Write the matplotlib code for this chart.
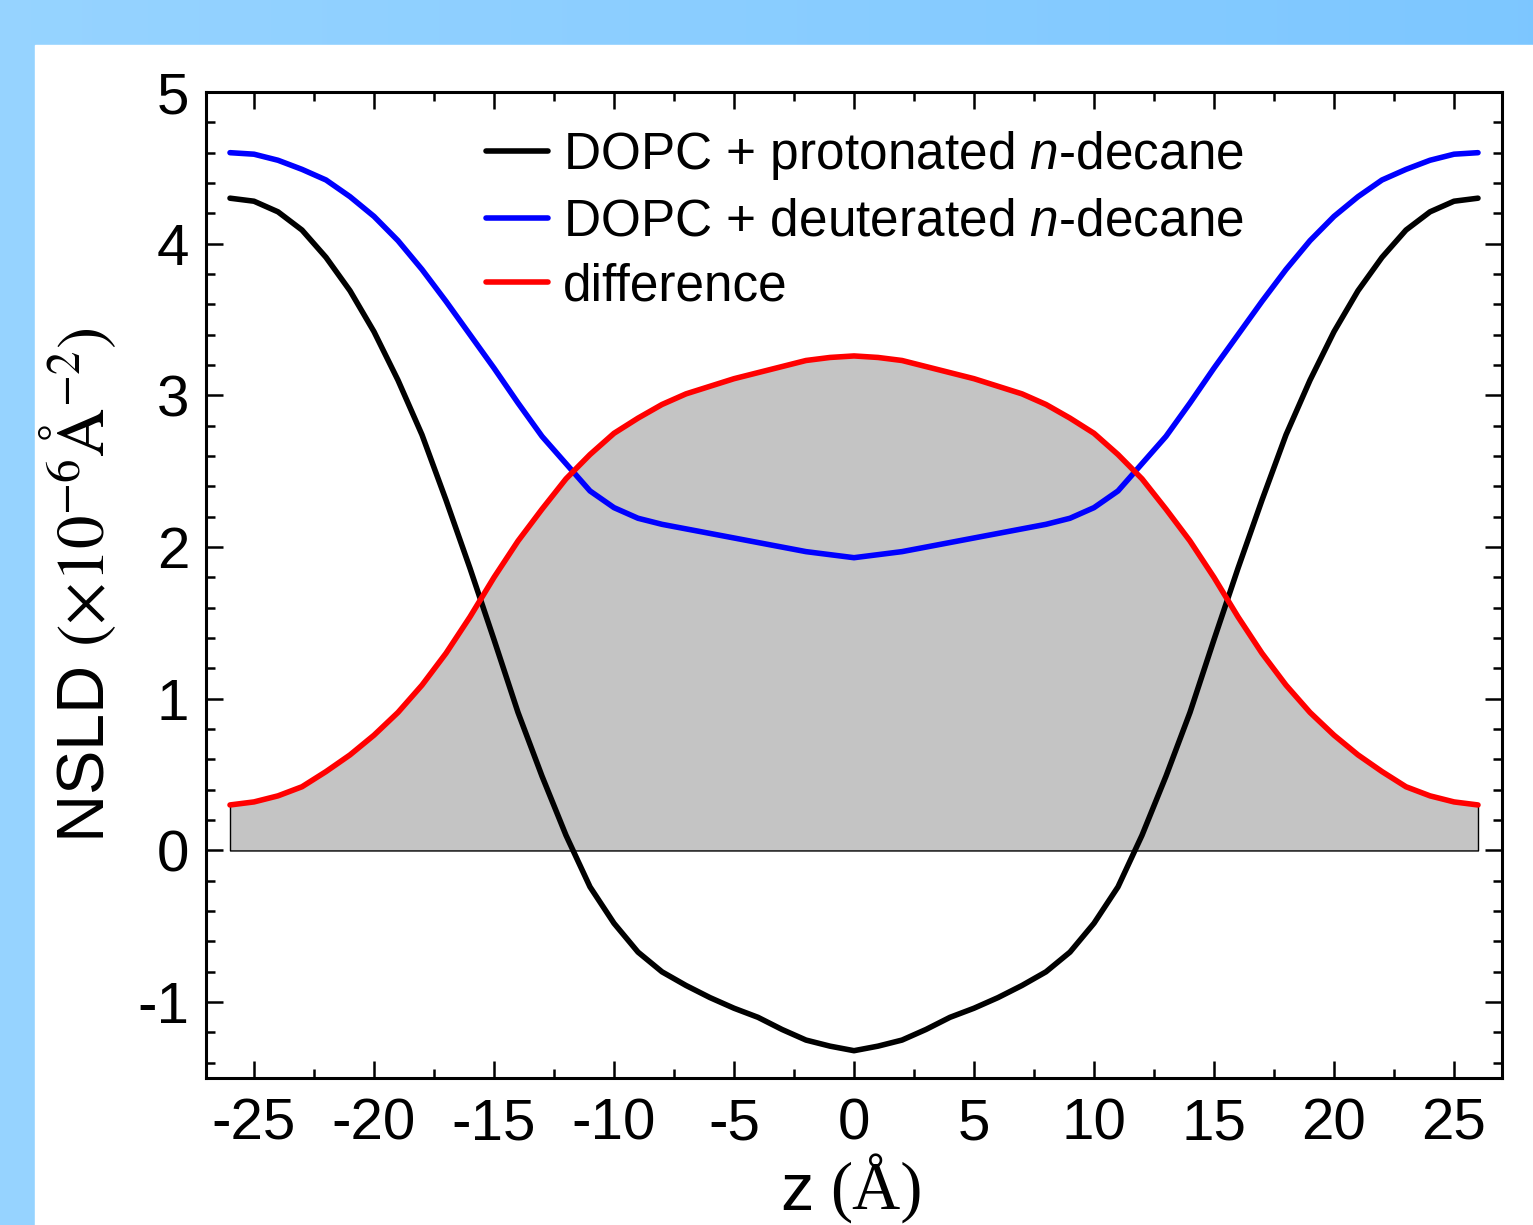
import numpy as np
import matplotlib
matplotlib.use("Agg")
import matplotlib.pyplot as plt
from matplotlib.ticker import MultipleLocator
from matplotlib.font_manager import FontProperties

# depth across the bilayer (Angstrom)
z = list(range(-26, 27))

# DOPC + protonated n-decane
nsld_h = [4.30, 4.28, 4.21, 4.09, 3.91, 3.69, 3.42, 3.10, 2.74, 2.31, 1.86, 1.39, 0.91,
          0.49, 0.10, -0.24, -0.48, -0.67, -0.80, -0.89, -0.97, -1.04, -1.10, -1.18,
          -1.25, -1.29, -1.32,
          -1.29, -1.25, -1.18, -1.10, -1.04, -0.97, -0.89, -0.80, -0.67, -0.48, -0.24,
          0.10, 0.49, 0.91, 1.39, 1.86, 2.31, 2.74, 3.10, 3.42, 3.69, 3.91, 4.09, 4.21,
          4.28, 4.30]

# DOPC + deuterated n-decane
nsld_d = [4.60, 4.59, 4.55, 4.49, 4.42, 4.31, 4.18, 4.02, 3.83, 3.62, 3.40, 3.18, 2.95,
          2.73, 2.55, 2.37, 2.26, 2.19, 2.15, 2.12, 2.09, 2.06, 2.03, 2.00, 1.97, 1.95,
          1.93,
          1.95, 1.97, 2.00, 2.03, 2.06, 2.09, 2.12, 2.15, 2.19, 2.26, 2.37, 2.55, 2.73,
          2.95, 3.18, 3.40, 3.62, 3.83, 4.02, 4.18, 4.31, 4.42, 4.49, 4.55, 4.59, 4.60]

# difference
nsld_diff = [0.30, 0.32, 0.36, 0.42, 0.52, 0.63, 0.76, 0.91, 1.09, 1.30, 1.54, 1.80, 2.04,
             2.25, 2.45, 2.61, 2.75, 2.85, 2.94, 3.01, 3.06, 3.11, 3.15, 3.19, 3.23, 3.25,
             3.26,
             3.25, 3.23, 3.19, 3.15, 3.11, 3.06, 3.01, 2.94, 2.85, 2.75, 2.61, 2.45, 2.25,
             2.04, 1.80, 1.54, 1.30, 1.09, 0.91, 0.76, 0.63, 0.52, 0.42, 0.36, 0.32, 0.30]

plt.rcParams['font.family'] = ['Liberation Sans', 'DejaVu Sans']
plt.rcParams['axes.unicode_minus'] = False
plt.rcParams['mathtext.fontset'] = 'custom'
plt.rcParams['mathtext.rm'] = 'Liberation Sans'
plt.rcParams['mathtext.it'] = 'Liberation Sans:italic'

W, H = 1533, 1225
fig = plt.figure(figsize=(W / 100, H / 100), dpi=100)

# blue gradient frame behind the white panel
bg = fig.add_axes([0, 0, 1, 1])
gx = np.linspace(0, 1, 300)
c0 = np.array([0.59, 0.83, 1.0])
c1 = np.array([0.49, 0.78, 1.0])
grad = (1 - gx)[:, None] * c0 + gx[:, None] * c1
bg.imshow(grad[None, :, :], aspect='auto', extent=[0, 1, 0, 1])
bg.add_patch(plt.Rectangle((35 / W, 0), 1, 1 - 45 / H, color='white'))
bg.set_xlim(0, 1)
bg.set_ylim(0, 1)
bg.axis('off')

ax = fig.add_axes([206 / W, 147 / H, 1296 / W, 986 / H])

ax.fill_between(z, 0, nsld_diff, facecolor='#c4c4c4', edgecolor='black', linewidth=1.0)
ax.plot(z, nsld_h, color='black', lw=4, solid_capstyle='round',
        label='DOPC + protonated $\\it{n}$-decane')
ax.plot(z, nsld_d, color='#0000ff', lw=4, solid_capstyle='round',
        label='DOPC + deuterated $\\it{n}$-decane')
ax.plot(z, nsld_diff, color='#ff0000', lw=4, solid_capstyle='round', label='difference')

ax.set_xlim(-27, 27)
ax.set_ylim(-1.5, 5)
ax.set_xticks(range(-25, 26, 5))
ax.set_yticks(range(-1, 6))
ax.xaxis.set_minor_locator(MultipleLocator(2.5))
ax.yaxis.set_minor_locator(MultipleLocator(0.2))
ax.tick_params(which='both', direction='in', top=True, right=True, width=1.8)
ax.tick_params(which='major', length=12, labelsize=42, pad=12)
ax.tick_params(axis='x', which='major', pad=14)
ax.tick_params(which='minor', length=6.5)
for s in ax.spines.values():
    s.set_linewidth(2.2)

ax.set_ylabel('NSLD $(\\times10^{-6}\\mathrm{Å}^{-2})$', fontsize=48, labelpad=14,
              math_fontfamily='stix')

# x label: sans "z" followed by serif "(Å)", at the bottom edge of the panel
fig.text(814 / W, 15 / H, 'z', fontsize=48, ha='right', va='baseline')
fig.text(830 / W, 15 / H, '(Å)', fontsize=48, ha='left', va='baseline',
         family='Liberation Serif')

leg_font = FontProperties(family='Liberation Sans', size=37, math_fontfamily='custom')
ax.legend(loc='upper left', bbox_to_anchor=(0.216, 0.962), frameon=False, prop=leg_font,
          handlelength=1.2, handletextpad=0.3, labelspacing=0.3, borderpad=0,
          borderaxespad=0)

fig.savefig('out.png', dpi=100)
